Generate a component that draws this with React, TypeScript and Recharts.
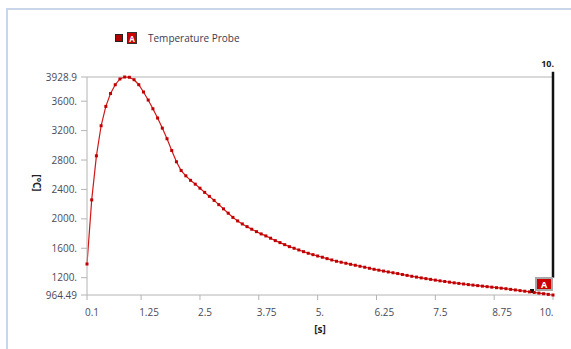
import React from 'react';
import { LineChart, Line, XAxis, YAxis, ReferenceLine, ReferenceDot, Legend } from 'recharts';

const times = [
  0.1, 0.2, 0.3, 0.4, 0.5, 0.6, 0.7, 0.8, 0.9, 1.0,
  1.1, 1.2, 1.3, 1.4, 1.5, 1.6, 1.7, 1.8, 1.9, 2.0,
  2.1, 2.2, 2.3, 2.4, 2.5, 2.6, 2.7, 2.8, 2.9, 3.0,
  3.1, 3.2, 3.3, 3.4, 3.5, 3.6, 3.7, 3.8, 3.9, 4.0,
  4.1, 4.2, 4.3, 4.4, 4.5, 4.6, 4.7, 4.8, 4.9, 5.0,
  5.1, 5.2, 5.3, 5.4, 5.5, 5.6, 5.7, 5.8, 5.9, 6.0,
  6.1, 6.2, 6.3, 6.4, 6.5, 6.6, 6.7, 6.8, 6.9, 7.0,
  7.1, 7.2, 7.3, 7.4, 7.5, 7.6, 7.7, 7.8, 7.9, 8.0,
  8.1, 8.2, 8.3, 8.4, 8.5, 8.6, 8.7, 8.8, 8.9, 9.0,
  9.1, 9.2, 9.3, 9.4, 9.5, 9.6, 9.7, 9.8, 9.9, 10.0,
];

const temperatures = [
  1386, 2258, 2857, 3266, 3529, 3705, 3824, 3902, 3928.9, 3925,
  3892, 3824, 3725, 3616, 3497, 3371, 3234, 3089, 2929, 2776,
  2657, 2585, 2524, 2472, 2417, 2360, 2306, 2251, 2193, 2136,
  2077, 2020, 1972, 1931, 1894, 1859, 1826, 1795, 1768, 1737,
  1704, 1677, 1649, 1622, 1600, 1577, 1554, 1532, 1513, 1495,
  1478, 1459, 1441, 1423, 1410, 1396, 1382, 1369, 1355, 1342,
  1328, 1314, 1302, 1290, 1278, 1267, 1256, 1243, 1231, 1219,
  1208, 1197, 1187, 1177, 1167, 1157, 1148, 1139, 1130, 1122,
  1114, 1106, 1099, 1092, 1085, 1078, 1071, 1064, 1057, 1050,
  1041, 1033, 1024, 1016, 1007, 999, 990, 982, 973, 964.49,
];

const xTicks = [0.1, 1.25, 2.5, 3.75, 5, 6.25, 7.5, 8.75, 10];
const xTickLabels = ['0.1', '1.25', '2.5', '3.75', '5.', '6.25', '7.5', '8.75', '10.'];
const yTicks = [964.49, 1200, 1600, 2000, 2400, 2800, 3200, 3600, 3928.9];
const yTickLabels = ['964.49', '1200.', '1600.', '2000.', '2400.', '2800.', '3200.', '3600.', '3928.9'];

const seriesName = 'Temperature Probe';
const cursorTime = 10;
const cursorLabel = '10.';
const probeTag = 'A';

const data = times.map((t, i) => ({ t, temp: temperatures[i] }));

const FONT = '"Open Sans", "DejaVu Sans", sans-serif';
const TEXT = '#4a4a58';
const AXIS = '#b4b4b4';
const RED = '#d01818';

const SquareDot = (p: any) => (
  <rect key={`d${p.index}`} x={p.cx - 1.5} y={p.cy - 1.5} width={3} height={3} fill="#c00000" />
);

const XTick = (p: any) => {
  const v = p.payload?.value;
  const idx = xTicks.indexOf(v);
  const isLast = idx === xTicks.length - 1;
  return (
    <text
      x={isLast ? p.x + 0.5 : p.x - 2}
      y={p.y + 12}
      textAnchor={isLast ? 'end' : 'start'}
      fontFamily={FONT}
      fontSize={10}
      fill={TEXT}
    >
      {idx >= 0 ? xTickLabels[idx] : String(v)}
    </text>
  );
};

const LegendContent = () => (
  <div style={{ display: 'flex', alignItems: 'center', fontFamily: FONT, fontSize: 10, color: '#3a3a50', whiteSpace: 'nowrap' }}>
    <span style={{ width: 6, height: 6, background: '#b00000', border: '1px solid #222', display: 'inline-block', marginRight: 4 }} />
    <span style={{ width: 8, height: 10, background: '#cc0000', border: '1px solid #333', display: 'inline-flex', alignItems: 'center', justifyContent: 'center', color: '#fff', fontSize: 8, fontWeight: 700, marginRight: 11 }}>{probeTag}</span>
    <span>{seriesName}</span>
  </div>
);

const CursorText = (p: any) => (
  <text x={p.cx + 1} y={p.cy - 5} textAnchor="end" fontFamily={FONT} fontSize={9} fontWeight={700} fill="#222">{cursorLabel}</text>
);

const ProbeMarker = (p: any) => (
  <g>
    <rect x={p.cx - 23} y={p.cy - 6} width={4} height={4} fill="#111" />
    <rect x={p.cx - 17} y={p.cy - 17} width={16} height={12} fill="#cc0000" stroke="#a8a8a8" strokeWidth={2} />
    <text x={p.cx - 9} y={p.cy - 7.5} textAnchor="middle" fontFamily={FONT} fontSize={9} fontWeight={700} fill="#fff">{probeTag}</text>
  </g>
);

const YLabel = (props: any) => {
  const vb = props.viewBox || { x: 0, y: 0, width: 0, height: 0 };
  const x = vb.x + 37;
  const y = vb.y + vb.height / 2 - 3;
  return (
    <text x={x} y={y} transform={`rotate(90, ${x}, ${y})`} textAnchor="middle" dominantBaseline="central" fontFamily={FONT} fontSize={10} fontWeight={700} fill="#222">[°C]</text>
  );
};

export default function App() {
  return (
    <div style={{ position: 'absolute', left: 0, top: 0, width: 571, height: 349, background: '#fff' }}>
      <div style={{ position: 'absolute', left: 6, top: 8, right: 0, bottom: 0, borderLeft: '2px solid #c9d5e8', borderTop: '2px solid #c9d5e8' }} />
      <LineChart width={571} height={349} data={data} margin={{ top: 77, right: 18, bottom: 14, left: 0 }}>
        <XAxis
          dataKey="t"
          type="number"
          domain={[0.1, 10]}
          ticks={xTicks}
          interval={0}
          height={40}
          stroke={AXIS}
          tickSize={5}
          tickMargin={4}
          tick={<XTick />}
          label={{ value: '[s]', position: 'insideBottom', offset: 2, fill: '#222', fontSize: 10, fontWeight: 700, fontFamily: FONT }}
        />
        <YAxis
          type="number"
          domain={[964.49, 3928.9]}
          ticks={yTicks}
          tickFormatter={(v: number) => yTickLabels[yTicks.indexOf(v)] ?? String(v)}
          interval={0}
          width={87}
          stroke={AXIS}
          tickSize={6}
          tickMargin={4}
          tick={{ fill: TEXT, fontSize: 10, fontFamily: FONT }}
          label={<YLabel />}
        />
        <ReferenceLine y={3928.9} stroke={AXIS} strokeWidth={1} />
        <Legend
          layout="horizontal"
          verticalAlign="middle"
          align="center"
          content={<LegendContent />}
          wrapperStyle={{ position: 'absolute', top: 31, left: 115, width: 200, height: 14 }}
        />
        <Line
          type="linear"
          dataKey="temp"
          stroke={RED}
          strokeWidth={1.2}
          dot={SquareDot}
          activeDot={false}
          isAnimationActive={false}
        />
        <ReferenceLine
          segment={[{ x: cursorTime, y: 4000 }, { x: cursorTime, y: 1200 }]}
          stroke="#111"
          strokeWidth={2.5}
          ifOverflow="visible"
        />
        <ReferenceDot x={cursorTime} y={4000} r={0} ifOverflow="visible" shape={CursorText} />
        <ReferenceDot x={cursorTime} y={964.49} r={0} ifOverflow="visible" shape={ProbeMarker} />
      </LineChart>
    </div>
  );
}
